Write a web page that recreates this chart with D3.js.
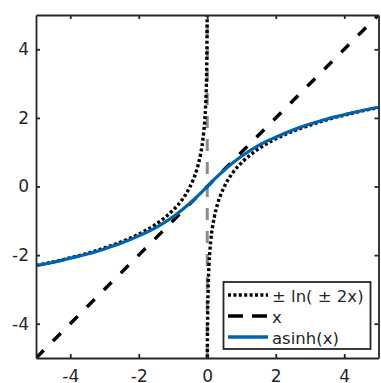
<!DOCTYPE html>
<html>
<head>
<meta charset="utf-8">
<script src="https://cdn.jsdelivr.net/npm/d3@7"></script>
<style>
  body { margin: 0; background: #fff; }
  svg { display: block; }
</style>
</head>
<body>
<div id="chart"></div>
<script>
// asinh(x)
const asinhX = [-5, -4.5, -4, -3.5, -3, -2.5, -2, -1.5, -1, -0.75, -0.5, -0.25, 0, 0.25, 0.5, 0.75, 1, 1.5, 2, 2.5, 3, 3.5, 4, 4.5, 5];
const asinhY = [-2.31, -2.21, -2.09, -1.97, -1.82, -1.65, -1.44, -1.20, -0.88, -0.69, -0.48, -0.25, 0, 0.25, 0.48, 0.69, 0.88, 1.20, 1.44, 1.65, 1.82, 1.97, 2.09, 2.21, 2.31];

// +ln(2x), right branch of the dotted curve
const lnPosX = [0.0034, 0.005, 0.01, 0.02, 0.03, 0.05, 0.075, 0.1, 0.15, 0.2, 0.3, 0.4, 0.5, 0.75, 1, 1.5, 2, 2.5, 3, 3.5, 4, 4.5, 5];
const lnPosY = [-4.99, -4.61, -3.91, -3.22, -2.81, -2.30, -1.90, -1.61, -1.20, -0.92, -0.51, -0.22, 0, 0.41, 0.69, 1.10, 1.39, 1.61, 1.79, 1.95, 2.08, 2.20, 2.30];

// -ln(-2x), left branch of the dotted curve
const lnNegX = [-5, -4.5, -4, -3.5, -3, -2.5, -2, -1.5, -1, -0.75, -0.5, -0.4, -0.3, -0.2, -0.15, -0.1, -0.075, -0.05, -0.03, -0.02, -0.01, -0.005, -0.0034];
const lnNegY = [-2.30, -2.20, -2.08, -1.95, -1.79, -1.61, -1.39, -1.10, -0.69, -0.41, 0, 0.22, 0.51, 0.92, 1.20, 1.61, 1.90, 2.30, 2.81, 3.22, 3.91, 4.61, 4.99];

// y = x
const identX = [-5, 5];
const identY = [-5, 5];

// vertical grey line at x = 0
const zeroX = [0, 0];
const zeroY = [-5, 5];

const ticks = [-4, -2, 0, 2, 4];
const legendLabels = ["\u00b1 ln( \u00b1 2x)", "x", "asinh(x)"];

const width = 381, height = 383;
const margin = { top: 15, right: 2, bottom: 25, left: 36 };
const axisColor = "#262626";
const blue = "#0063b1";
const font = "DejaVu Sans, sans-serif";

const svg = d3.select("#chart").append("svg")
    .attr("width", width)
    .attr("height", height);

const x = d3.scaleLinear().domain([-5, 5]).range([margin.left, width - margin.right - 0.5]);
const y = d3.scaleLinear().domain([-5, 5]).range([height - margin.bottom, margin.top]);

svg.append("clipPath").attr("id", "plotclip")
    .append("rect")
    .attr("x", x(-5)).attr("y", y(5))
    .attr("width", x(5) - x(-5)).attr("height", y(-5) - y(5));

const pairs = (xs, ys) => xs.map((v, i) => [v, ys[i]]);
const line = d3.line().x(d => x(d[0])).y(d => y(d[1])).curve(d3.curveMonotoneX);
const straight = d3.line().x(d => x(d[0])).y(d => y(d[1]));

const plot = svg.append("g").attr("clip-path", "url(#plotclip)");

// grey dashed zero line
plot.append("path")
    .attr("d", straight(pairs(zeroX, zeroY)))
    .attr("fill", "none").attr("stroke", "#8c8c8c")
    .attr("stroke-width", 3).attr("stroke-dasharray", "12,11");

// dotted log branches
[[lnNegX, lnNegY], [lnPosX, lnPosY]].forEach(([xs, ys]) => {
    plot.append("path")
        .attr("d", line(pairs(xs, ys)))
        .attr("fill", "none").attr("stroke", "#000")
        .attr("stroke-width", 3.4).attr("stroke-dasharray", "3,2.4");
});

// dashed identity
plot.append("path")
    .attr("d", straight(pairs(identX, identY)))
    .attr("fill", "none").attr("stroke", "#000")
    .attr("stroke-width", 3.4).attr("stroke-dasharray", "11,13");

// asinh
plot.append("path")
    .attr("d", line(pairs(asinhX, asinhY)))
    .attr("fill", "none").attr("stroke", blue)
    .attr("stroke-width", 3.2);

// axes box with inward ticks on all sides
const axes = svg.append("g");
axes.append("g").attr("transform", `translate(0,${y(-5)})`)
    .call(d3.axisBottom(x).tickValues(ticks).tickSizeInner(-4).tickSizeOuter(0).tickPadding(12).tickFormat(d => d));
axes.append("g").attr("transform", `translate(0,${y(5)})`)
    .call(d3.axisTop(x).tickValues(ticks).tickSizeInner(-4).tickSizeOuter(0).tickFormat(""));
axes.append("g").attr("transform", `translate(${x(-5)},0)`)
    .call(d3.axisLeft(y).tickValues(ticks).tickSizeInner(-4).tickSizeOuter(0).tickPadding(7).tickFormat(d => d));
axes.append("g").attr("transform", `translate(${x(5)},0)`)
    .call(d3.axisRight(y).tickValues(ticks).tickSizeInner(-4).tickSizeOuter(0).tickFormat(""));

axes.selectAll(".domain").attr("stroke", axisColor).attr("stroke-width", 1.8);
axes.selectAll(".tick line").attr("stroke", axisColor).attr("stroke-width", 1.8);
axes.selectAll(".tick text")
    .attr("fill", axisColor)
    .attr("font-family", font)
    .attr("font-size", 17);

// legend
const lg = svg.append("g");
lg.append("rect")
    .attr("x", 223.5).attr("y", 282)
    .attr("width", 147).attr("height", 67)
    .attr("fill", "#fff").attr("stroke", axisColor).attr("stroke-width", 1.8);

const rowY = [295, 316, 337];
const sampleStyles = [
    { stroke: "#000", dash: "3,2.4" },
    { stroke: "#000", dash: "15,9" },
    { stroke: blue, dash: null }
];
legendLabels.forEach((label, i) => {
    lg.append("line")
        .attr("x1", 228).attr("x2", 268)
        .attr("y1", rowY[i]).attr("y2", rowY[i])
        .attr("stroke", sampleStyles[i].stroke)
        .attr("stroke-width", 3.4)
        .attr("stroke-dasharray", sampleStyles[i].dash);
    lg.append("text")
        .attr("x", 272).attr("y", rowY[i] + 1)
        .attr("dy", "0.35em")
        .attr("fill", axisColor)
        .attr("font-family", font)
        .attr("font-size", 16.5)
        .text(label);
});
</script>
</body>
</html>
